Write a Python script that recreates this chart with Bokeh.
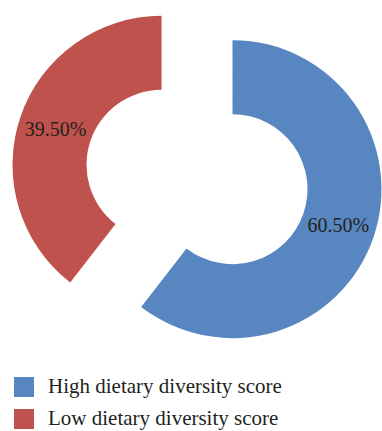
import math
from bokeh.plotting import figure
from bokeh.models import ColumnDataSource, Range1d, Legend, LegendItem
from bokeh.core.properties import value
from bokeh.embed import file_html
from bokeh.resources import INLINE

# ---- data ----
categories = ["High dietary diversity score", "Low dietary diversity score"]
shares = [60.5, 39.5]
labels = ["60.50%", "39.50%"]
colors = ["#5886C0", "#C0524E"]

# ---- layout ----
W, H = 382, 431
cx, cy = 196.5, H - 176.5      # pie centre (data units == pixels)
explode = 37.5
r_out, r_in = 149, 75
r_lab = 112

total = sum(shares)
xs, ys, starts, ends, lx, ly = [], [], [], [], [], []
a = math.pi / 2  # start at 12 o'clock, go clockwise
for s in shares:
    sweep = 2 * math.pi * s / total
    end = a
    start = a - sweep
    mid = (start + end) / 2
    x0 = cx + explode * math.cos(mid)
    y0 = cy + explode * math.sin(mid)
    xs.append(x0); ys.append(y0)
    starts.append(start); ends.append(end)
    lx.append(x0 + r_lab * math.cos(mid))
    ly.append(y0 + r_lab * math.sin(mid))
    a = start

src = ColumnDataSource(dict(x=xs, y=ys, start=starts, end=ends, color=colors,
                            cat=categories, lx=lx, ly=ly, lab=labels))

p = figure(width=W, height=H, output_backend="svg", toolbar_location=None,
           x_range=Range1d(0, W), y_range=Range1d(0, H), min_border=0)
p.axis.visible = False
p.grid.visible = False
p.outline_line_color = None
p.background_fill_color = "white"

wedges = p.annular_wedge(x="x", y="y", inner_radius=r_in, outer_radius=r_out,
                         inner_radius_units="screen", outer_radius_units="screen",
                         start_angle="start", end_angle="end", direction="anticlock",
                         fill_color="color", line_color=None, source=src)

p.text(x="lx", y="ly", text="lab", source=src, text_align="center",
       text_baseline="middle", text_font=value("Liberation Serif"),
       text_font_size="20px", text_color="#231F20")

legend = Legend(items=[LegendItem(label=categories[i], renderers=[wedges], index=i)
                       for i in range(len(categories))],
                location=(11, 0), orientation="vertical",
                glyph_width=25, glyph_height=25, spacing=7, label_standoff=12,
                padding=0, margin=0, border_line_color=None,
                background_fill_alpha=0,
                label_text_font="Liberation Serif", label_text_font_size="21px",
                label_text_color="#231F20")
p.add_layout(legend)

open("out.html", "w").write(file_html(p, INLINE))
